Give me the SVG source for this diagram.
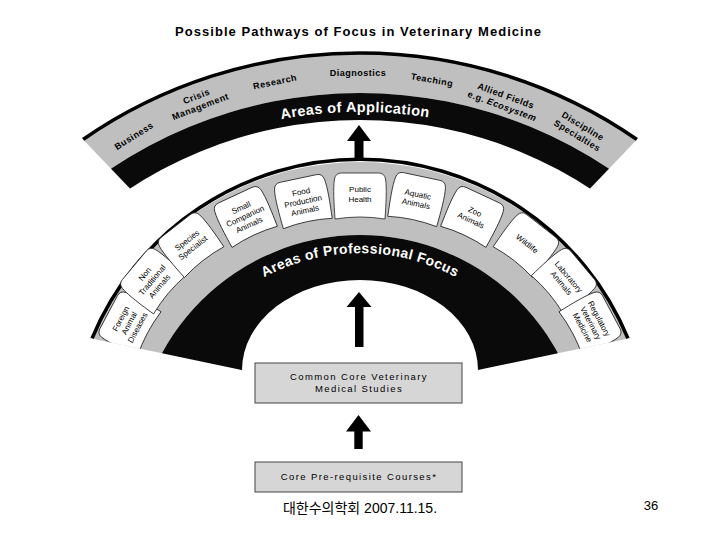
<svg xmlns="http://www.w3.org/2000/svg" width="720" height="540" viewBox="0 0 720 540">
<style>
text{font-family:"Liberation Sans",Arial,sans-serif;fill:#000}
.gray{fill:#bfbfbf;fill-rule:evenodd}
.black{fill:#0a0a0a;fill-rule:evenodd}
.edge{fill:none;stroke:#000;stroke-width:3.5}
.tab use{fill:#fff;stroke:#222;stroke-width:0.8}
.tab text{font-size:8px;text-anchor:middle;fill:#000}
.lbl{font-size:9px;font-weight:bold;text-anchor:middle;letter-spacing:0.5px}
.bandtitle{font-weight:bold;fill:#fff;text-anchor:middle;letter-spacing:0.4px}
.box rect{fill:#d6d6d6;stroke:#444;stroke-width:1}
.box text{font-size:9.5px;letter-spacing:1.4px;text-anchor:middle}
.arrow{fill:#000}
</style>
<defs>
<clipPath id="clipTop"><path d="M-50.5,0 L770.5,0 L360,428.9 Z"/></clipPath>
<clipPath id="clipMid"><path d="M0,0 H720 V319.2 L360,394.8 L0,319.2 Z"/></clipPath>
<path id="pTop" d="M-10.7,326 A428,428 0 0,1 730.7,326"/>
<path id="pMid" d="M161.1,419.9 A202,202 0 0,1 558.9,419.9"/>
<path id="tabShape" d="M-25,23 C-26,8 -27,-8 -25.5,-17 Q-24.5,-23 -18.5,-23 L18.5,-23 Q24.5,-23 25.5,-17 C27,-8 26,8 25,23 Q0,19 -25,23 Z"/>
</defs>

<text id="title" x="358" y="36" font-size="13" font-weight="bold" text-anchor="middle" textLength="366" lengthAdjust="spacing">Possible Pathways of Focus in Veterinary Medicine</text>

<g id="areas-of-application" clip-path="url(#clipTop)">
  <path class="gray" d="M-127,540 a487,487 0 1,0 974,0 a487,487 0 1,0 -974,0 Z M-87,540 a447,447 0 1,0 894,0 a447,447 0 1,0 -894,0 Z"/>
  <path class="black" d="M-87,540 a447,447 0 1,0 894,0 a447,447 0 1,0 -894,0 Z M-60,540 a420,420 0 1,0 840,0 a420,420 0 1,0 -840,0 Z"/>
  <path class="edge" d="M83,139.5 A487,487 0 0,1 637,139.5"/>
  <text class="bandtitle" font-size="14.5"><textPath href="#pTop" startOffset="49.45%">Areas of Application</textPath></text>
</g>
<g id="application-labels">
  <text class="lbl" transform="translate(134,136) rotate(-32)" y="3">Business</text>
  <text class="lbl" transform="translate(198.5,101.5) rotate(-21)"><tspan x="0" y="-2.5">Crisis</tspan><tspan x="0" y="8.5">Management</tspan></text>
  <text class="lbl" transform="translate(275,82) rotate(-12)" y="3">Research</text>
  <text class="lbl" transform="translate(358,73)" y="3">Diagnostics</text>
  <text class="lbl" transform="translate(432,80) rotate(10)" y="3">Teaching</text>
  <text class="lbl" transform="translate(504,101) rotate(20)"><tspan x="0" y="-2.5">Allied Fields</tspan><tspan x="0" y="8.5">e.g. <tspan font-style="italic">Ecosystem</tspan></tspan></text>
  <text class="lbl" transform="translate(580,131) rotate(31)"><tspan x="0" y="-2.5">Discipline</tspan><tspan x="0" y="8.5">Specialties</tspan></text>
</g>

<g id="areas-of-professional-focus" clip-path="url(#clipMid)">
  <path class="gray" d="M70,452 a290,290 0 1,0 580,0 a290,290 0 1,0 -580,0 Z M135,460 a225,225 0 1,0 450,0 a225,225 0 1,0 -450,0 Z"/>
  <path class="black" d="M135,460 a225,225 0 1,0 450,0 a225,225 0 1,0 -450,0 Z M242,370 a118,90 0 1,0 236,0 a118,90 0 1,0 -236,0 Z"/>
  <path class="edge" stroke-width="4" d="M92,338.5 A290,290 0 0,1 628,338.5"/>
  <text class="bandtitle" font-size="14"><textPath href="#pMid" startOffset="50%">Areas of Professional Focus</textPath></text>
  <g id="tab-foreign" class="tab" transform="translate(129,323) rotate(-62)"><use href="#tabShape"/><text><tspan x="0" y="-6.5">Foreign</tspan><tspan x="0" y="3">Animal</tspan><tspan x="0" y="12.5">Diseases</tspan></text></g>
  <g id="tab-nontraditional" class="tab" transform="translate(152,280) rotate(-50)"><use href="#tabShape"/><text><tspan x="0" y="-6.5">Non</tspan><tspan x="0" y="3">Traditional</tspan><tspan x="0" y="12.5">Animals</tspan></text></g>
  <g id="tab-species" class="tab" transform="translate(190,244) rotate(-38)"><use href="#tabShape"/><text><tspan x="0" y="-2">Species</tspan><tspan x="0" y="7.5">Specialist</tspan></text></g>
  <g id="tab-small" class="tab" transform="translate(245,216) rotate(-25)"><use href="#tabShape"/><text><tspan x="0" y="-6.5">Small</tspan><tspan x="0" y="3">Companion</tspan><tspan x="0" y="12.5">Animals</tspan></text></g>
  <g id="tab-food" class="tab" transform="translate(303,201) rotate(-12)"><use href="#tabShape"/><text><tspan x="0" y="-6.5">Food</tspan><tspan x="0" y="3">Production</tspan><tspan x="0" y="12.5">Animals</tspan></text></g>
  <g id="tab-public" class="tab" transform="translate(360,196)"><use href="#tabShape"/><text><tspan x="0" y="-4">Public</tspan><tspan x="0" y="6">Health</tspan></text></g>
  <g id="tab-aquatic" class="tab" transform="translate(417,199) rotate(12)"><use href="#tabShape"/><text><tspan x="0" y="-2">Aquatic</tspan><tspan x="0" y="7.5">Animals</tspan></text></g>
  <g id="tab-zoo" class="tab" transform="translate(473,216) rotate(25)"><use href="#tabShape"/><text><tspan x="0" y="-2">Zoo</tspan><tspan x="0" y="7.5">Animals</tspan></text></g>
  <g id="tab-wildlife" class="tab" transform="translate(527,244) rotate(38)"><use href="#tabShape"/><text><tspan x="0" y="2.5">Wildlife</tspan></text></g>
  <g id="tab-laboratory" class="tab" transform="translate(565,280) rotate(50)"><use href="#tabShape"/><text><tspan x="0" y="-2">Laboratory</tspan><tspan x="0" y="7.5">Animals</tspan></text></g>
  <g id="tab-regulatory" class="tab" transform="translate(591,323) rotate(62)"><use href="#tabShape"/><text><tspan x="0" y="-6.5">Regulatory</tspan><tspan x="0" y="3">Veterinary</tspan><tspan x="0" y="12.5">Medicine</tspan></text></g>
</g>

<g id="box-common-core" class="box">
  <rect x="255" y="363" width="207" height="40"/>
  <text><tspan x="359" y="380">Common Core Veterinary</tspan><tspan x="359" y="391.5">Medical Studies</tspan></text>
</g>
<g id="box-prerequisite" class="box">
  <rect x="255" y="462" width="207" height="30"/>
  <text x="359" y="480">Core Pre-requisite Courses*</text>
</g>

<g id="connectors">
  <path class="arrow" d="M359,125 L371,141 L363.5,141 L363.5,159 L354.5,159 L354.5,141 L347,141 Z"/>
  <path class="arrow" d="M359,292 L371.5,307 L363.5,307 L363.5,347 L355,347 L355,307 L346.5,307 Z"/>
  <path class="arrow" d="M358.5,415 L371,431.5 L362.7,431.5 L362.7,449 L354.3,449 L354.3,431.5 L346,431.5 Z"/>
</g>

<text id="footer" x="360" y="513" font-size="14" text-anchor="middle" style="font-family:'Liberation Sans','Noto Sans CJK KR',sans-serif">대한수의학회 2007.11.15.</text>
<text id="page" x="651" y="509.5" font-size="13" text-anchor="middle">36</text>
</svg>
